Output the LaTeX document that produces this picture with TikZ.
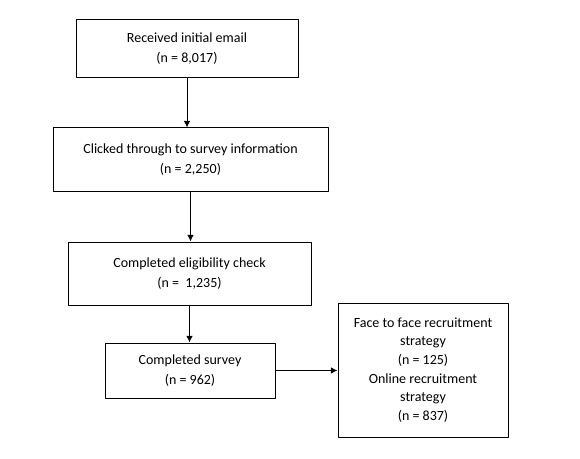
\documentclass[tikz,border=0pt]{standalone}
\usepackage{fontspec}
\setmainfont{Carlito}
\usetikzlibrary{arrows.meta}
\begin{document}
\begin{tikzpicture}[x=0.75pt, y=-0.75pt, line join=round, >={Latex[length=5pt,width=5pt]}, font=\fontsize{10.5}{15}\selectfont]
	\tikzset{box/.style={draw, line width=0.75pt, align=center, inner sep=0pt}}
	\def\pxl{0.75pt}
	\useasboundingbox (0,0) rectangle (580,459);
	\node[box, minimum width=222*\pxl, minimum height=58*\pxl] (email) at (187,49) {Received initial email\\(n = 8,017)};
	\node[box, minimum width=275*\pxl, minimum height=64*\pxl] (clicked) at (190.5,160) {Clicked through to survey information\\(n = 2,250)};
	\node[box, minimum width=243*\pxl, minimum height=63*\pxl] (eligible) at (189.5,273.5) {Completed eligibility check\\(n = \ 1,235)};
	\node[box, minimum width=170*\pxl, minimum height=55*\pxl] (survey) at (190,370.5) {Completed survey\\(n = 962)};
	\node[box, minimum width=170*\pxl, minimum height=134*\pxl, font=\fontsize{10.5}{14}\selectfont] (strategy) at (423,370) {Face to face recruitment\\strategy\\(n = 125)\\Online recruitment\\strategy\\(n = 837)};
	\draw[->, line width=0.75pt] (email.south) -- (email.south |- clicked.north);
	\draw[->, line width=0.75pt] (clicked.south) -- (clicked.south |- eligible.north);
	\draw[->, line width=0.75pt] (eligible.south) -- (eligible.south |- survey.north);
	\draw[->, line width=0.75pt] (survey.east) -- (survey.east -| strategy.west);
\end{tikzpicture}
\end{document}
